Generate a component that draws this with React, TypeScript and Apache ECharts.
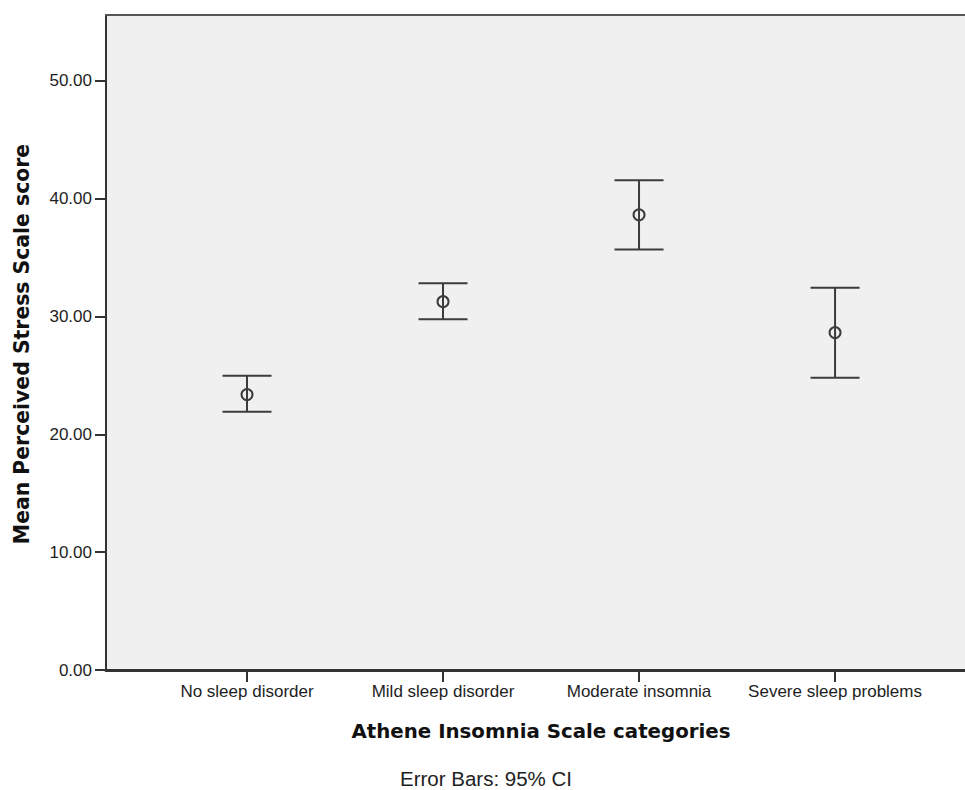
import React, { useEffect, useRef } from "react";
import * as echarts from "echarts";

const categories = ["No sleep disorder", "Mild sleep disorder", "Moderate insomnia", "Severe sleep problems"];
const means = [23.37, 31.25, 38.62, 28.63];
const lowerCI = [21.9, 29.75, 35.68, 24.79];
const upperCI = [24.96, 32.81, 41.54, 32.43];
const yTicks = [0, 10, 20, 30, 40, 50];
const xPositions = [1, 2, 3, 4];

export default function App() {
  const ref = useRef<HTMLDivElement>(null);
  useEffect(() => {
    if (!ref.current) return;
    const chart = echarts.init(ref.current, null, { renderer: "svg" });
    const data = categories.map((_, i) => [xPositions[i], means[i], lowerCI[i], upperCI[i]]);
    const lineColor = "#3c3c3c";
    const tickFont = { fontFamily: "Liberation Sans, Arial, sans-serif", fontSize: 17, color: "#1e1e1e" };
    chart.setOption({
      animation: false,
      backgroundColor: "#ffffff",
      grid: {
        left: 106,
        top: 15,
        right: 0,
        bottom: 120,
        show: true,
        backgroundColor: "#f0f0f0",
        borderWidth: 0,
      },
      xAxis: [
        {
          type: "value",
          min: 0.2806,
          max: 4.663,
          position: "bottom",
          splitLine: { show: false },
          axisLine: { show: true, onZero: false, lineStyle: { color: "#333", width: 3 } },
          axisTick: { show: true, customValues: xPositions, length: 12, lineStyle: { color: "#333", width: 2 } },
          axisLabel: {
            customValues: xPositions,
            margin: 13,
            ...tickFont,
            formatter: (v: number) => categories[Math.round(v) - 1] ?? "",
          },
        },
        {
          type: "value",
          min: 0.2806,
          max: 4.663,
          position: "top",
          splitLine: { show: false },
          axisLine: { show: true, onZero: false, lineStyle: { color: "#555", width: 2 } },
          axisTick: { show: false },
          axisLabel: { show: false },
        },
      ],
      yAxis: {
        type: "value",
        min: 0,
        max: 55.57,
        splitLine: { show: false },
        axisLine: { show: true, lineStyle: { color: "#333", width: 2 } },
        axisTick: { show: true, customValues: yTicks, length: 11, lineStyle: { color: "#333", width: 2 } },
        axisLabel: {
          customValues: yTicks,
          margin: 14,
          ...tickFont,
          formatter: (v: number) => v.toFixed(2),
        },
      },
      series: [
        {
          type: "custom",
          xAxisIndex: 0,
          data,
          encode: { x: 0, y: [1, 2, 3] },
          renderItem: (params: any, api: any) => {
            const x = api.value(0);
            const pM = api.coord([x, api.value(1)]);
            const pL = api.coord([x, api.value(2)]);
            const pH = api.coord([x, api.value(3)]);
            const hw = 24.5;
            const st = { stroke: lineColor, lineWidth: 2 };
            return {
              type: "group",
              children: [
                { type: "line", shape: { x1: pL[0], y1: pL[1], x2: pH[0], y2: pH[1] }, style: st },
                { type: "line", shape: { x1: pH[0] - hw, y1: pH[1], x2: pH[0] + hw, y2: pH[1] }, style: st },
                { type: "line", shape: { x1: pL[0] - hw, y1: pL[1], x2: pL[0] + hw, y2: pL[1] }, style: st },
                { type: "circle", shape: { cx: pM[0], cy: pM[1], r: 5.5 }, style: { fill: "none", stroke: lineColor, lineWidth: 2 } },
              ],
            };
          },
        },
      ],
      graphic: [
        {
          type: "text",
          x: 541,
          y: 731,
          style: {
            text: "Athene Insomnia Scale categories",
            fontFamily: "DejaVu Sans, Verdana, sans-serif",
            fontWeight: "bold",
            fontSize: 19.8,
            fill: "#111",
            align: "center",
            verticalAlign: "middle",
          },
        },
        {
          type: "text",
          x: 22,
          y: 344,
          rotation: Math.PI / 2,
          style: {
            text: "Mean Perceived Stress Scale score",
            fontFamily: "DejaVu Sans, Verdana, sans-serif",
            fontWeight: "bold",
            fontSize: 20.4,
            fill: "#111",
            align: "center",
            verticalAlign: "middle",
          },
        },
        {
          type: "text",
          x: 486,
          y: 778,
          style: {
            text: "Error Bars: 95% CI",
            fontFamily: "Liberation Sans, Arial, sans-serif",
            fontSize: 20.5,
            fill: "#222",
            align: "center",
            verticalAlign: "middle",
          },
        },
      ],
    });
    return () => chart.dispose();
  }, []);
  return (
    <div
      ref={ref}
      style={{ position: "fixed", left: 0, top: 0, width: 965, height: 790 }}
    />
  );
}
